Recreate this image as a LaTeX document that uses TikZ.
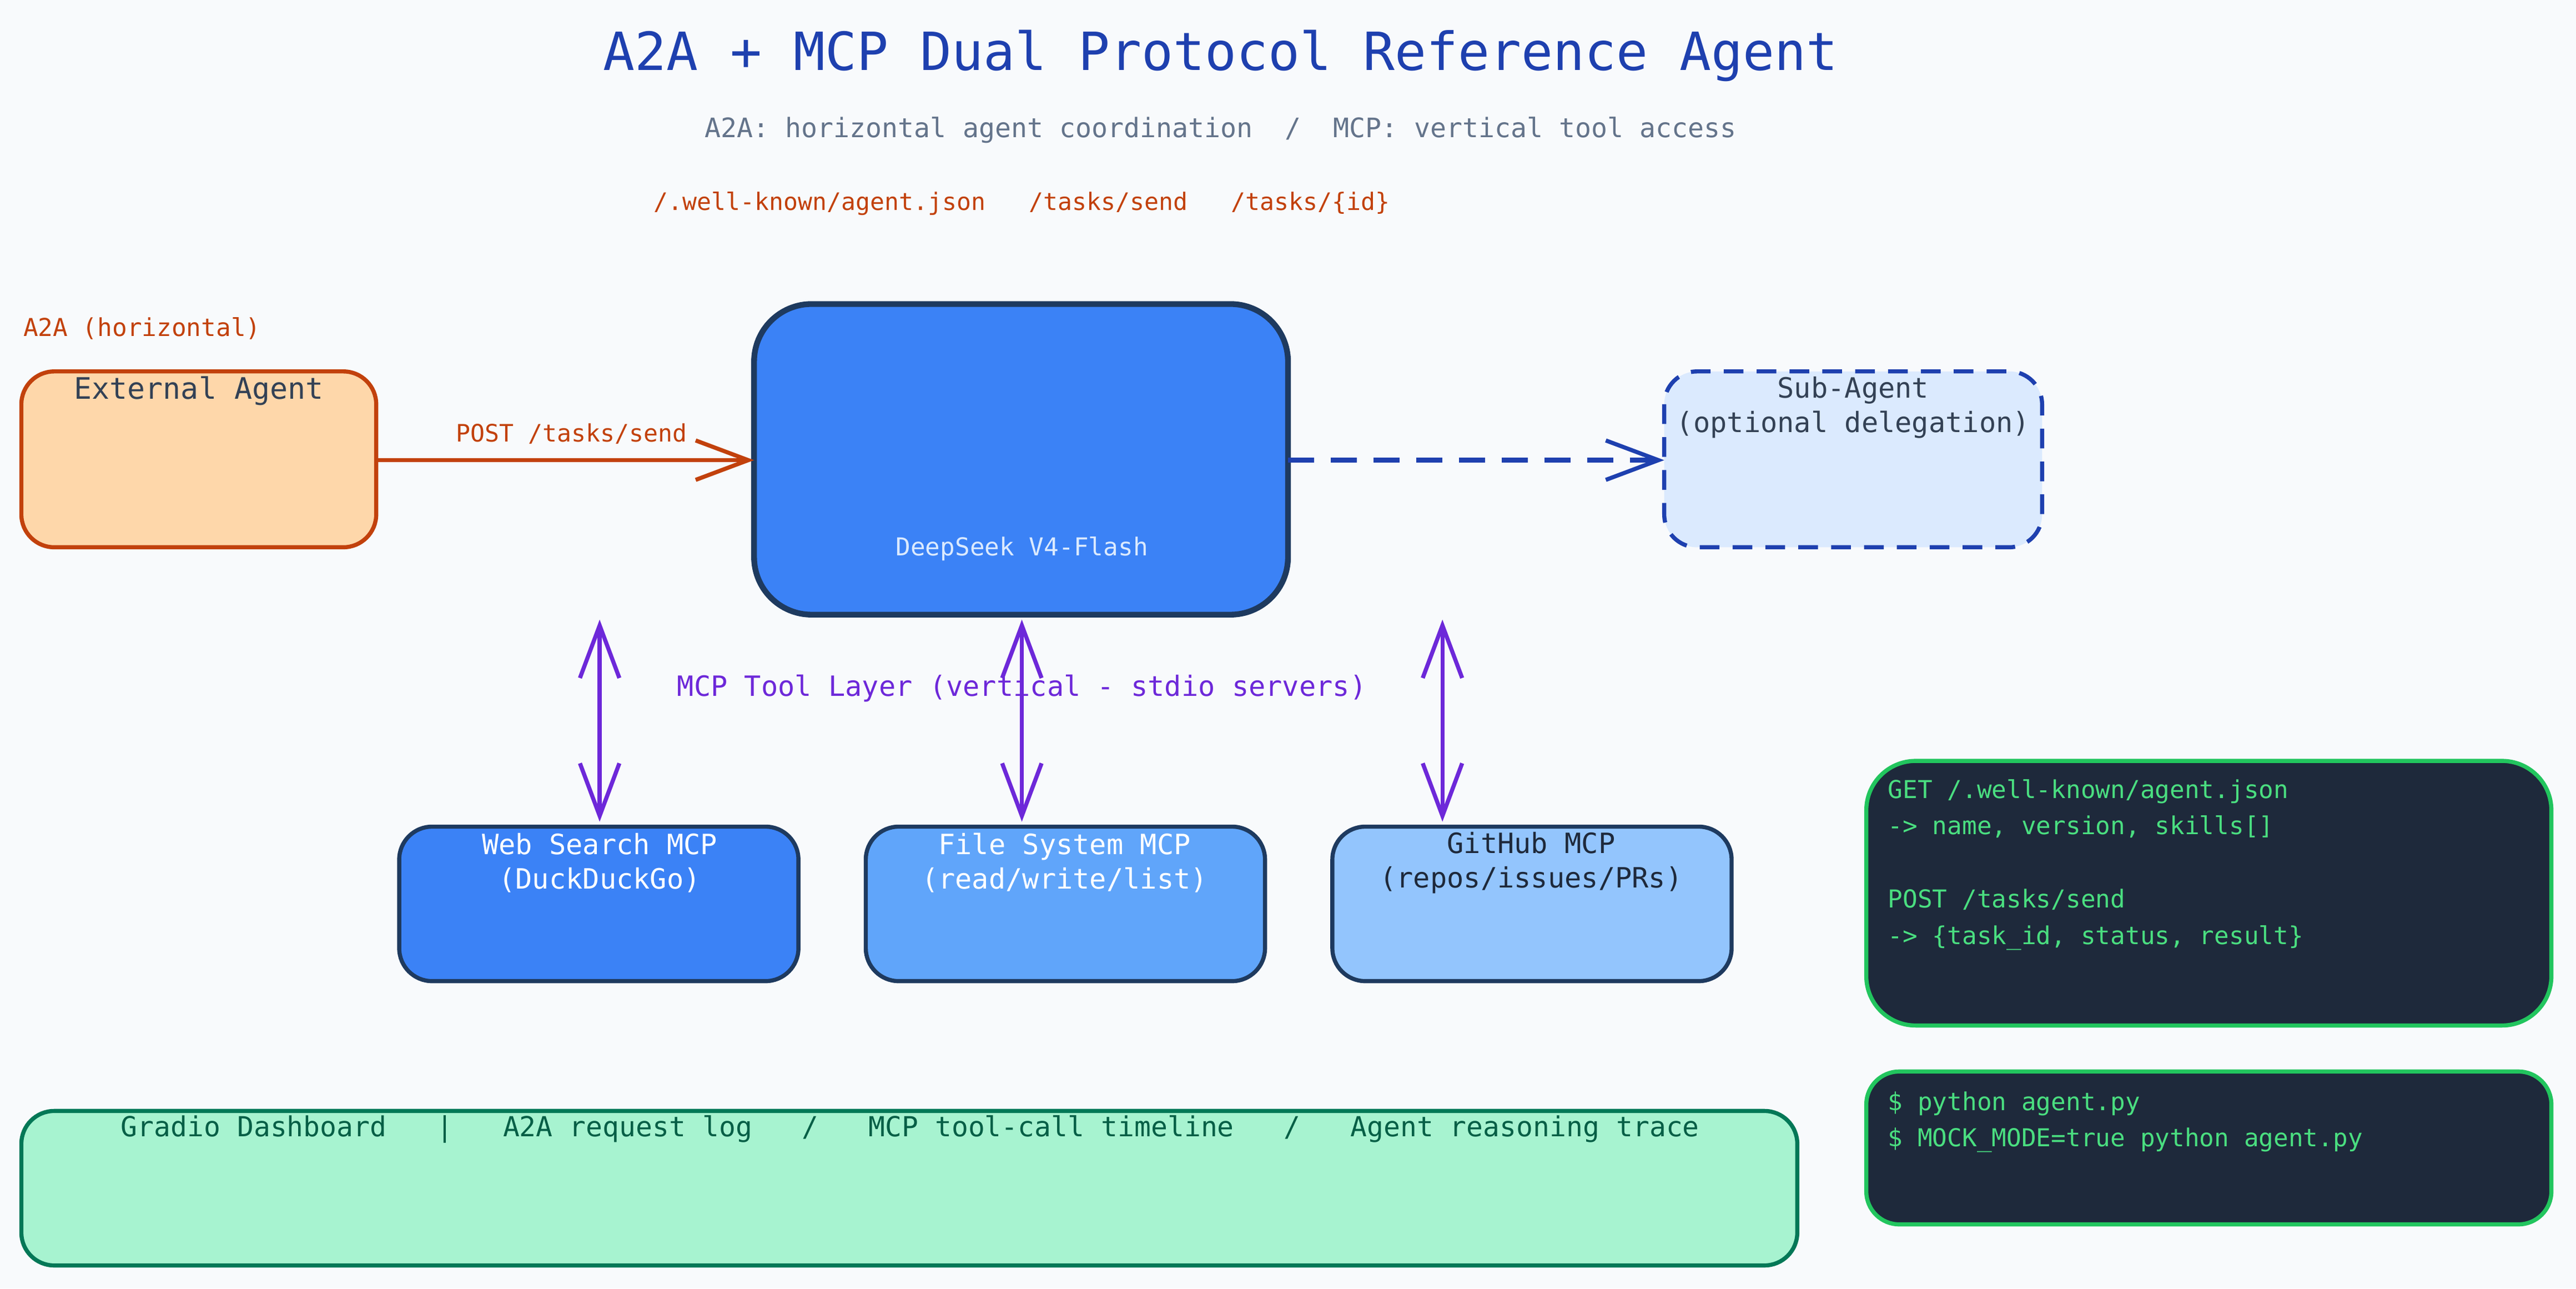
\documentclass[tikz,border=0pt]{standalone}
\usepackage{fontspec}
\setmainfont{DejaVu Sans Mono}
\usetikzlibrary{arrows.meta}
\definecolor{bg}{HTML}{F8FAFC}
\definecolor{tblue}{HTML}{1E40AF}
\definecolor{sgray}{HTML}{64748B}
\definecolor{orng}{HTML}{C2410C}
\definecolor{peach}{HTML}{FED7AA}
\definecolor{slate}{HTML}{334155}
\definecolor{navy}{HTML}{1E3A5F}
\definecolor{b5}{HTML}{3B82F6}
\definecolor{b4}{HTML}{60A5FA}
\definecolor{b3}{HTML}{93C5FD}
\definecolor{b1}{HTML}{DBEAFE}
\definecolor{purp}{HTML}{6D28D9}
\definecolor{dark}{HTML}{1E293B}
\definecolor{grn}{HTML}{22C55E}
\definecolor{lgrn}{HTML}{4ADE80}
\definecolor{mint}{HTML}{A7F3D0}
\definecolor{emer}{HTML}{047857}
\definecolor{demer}{HTML}{065F46}
\begin{document}
\begin{tikzpicture}[x=1pt,y=-1pt,
  box/.style={draw,line width=2.5pt,rounded corners=20pt},
  lbl/.style={font=\fontsize{17}{21}\selectfont,align=center,inner sep=0pt},
  code/.style={font=\fontsize{15}{22.2}\selectfont,align=left,anchor=north west,inner sep=0pt,text=lgrn},
  tip/.style={-{Straight Barb[length=32pt,width=24pt,line width=2.5pt]}},
  dtip/.style={{Straight Barb[length=32pt,width=24pt,line width=2.5pt]}-{Straight Barb[length=32pt,width=24pt,line width=2.5pt]}}]
\fill[bg] (0,0) rectangle (1568,784);
\useasboundingbox (0,0) rectangle (1568,784);
\node[text=tblue,font=\fontsize{32}{36}\selectfont] (title) at (743,34) {A2A + MCP Dual Protocol Reference Agent};
\node[text=sgray,font=\fontsize{16.3}{20}\selectfont] (sub) at (743,79) {A2A: horizontal agent coordination\ \ /\ \ MCP: vertical tool access};
\node[text=orng,font=\fontsize{14.6}{18}\selectfont] (ep) at (622,124) {/.well-known/agent.json\ \ \ /tasks/send\ \ \ /tasks/\{id\}};
\node[text=orng,font=\fontsize{15}{18}\selectfont,anchor=west,inner sep=0pt] (a2a) at (14,200) {A2A (horizontal)};

\draw[box,orng,fill=peach] (13,226) rectangle (229,333);
\node[lbl,text=slate,font=\fontsize{18}{21}\selectfont] (ext) at (121,238) {External Agent};
\coordinate (extR) at (229,280);

\draw[navy,fill=b5,line width=3.5pt,rounded corners=35pt] (459,185) rectangle (784,374);
\node[lbl,text=b1,font=\fontsize{15}{18}\selectfont] (ds) at (622,334) {DeepSeek V4-Flash};
\coordinate (mainL) at (459,280);
\coordinate (mainR) at (784,280);

\draw[tip,orng,line width=2.5pt] (extR) -- (mainL);
\node[text=orng,font=\fontsize{14.6}{18}\selectfont] (post) at (348,264) {POST /tasks/send};

\draw[box,tblue,fill=b1,dash pattern=on 12pt off 8pt] (1013,226) rectangle (1243,333);
\node[lbl,text=slate] (sa) at (1128,248) {Sub-Agent\\(optional delegation)};
\coordinate (subL) at (1013,280);
\draw[tip,tblue,line width=3pt,dash pattern=on 16pt off 10pt] (mainR) -- (subL);

\node[text=purp,font=\fontsize{17}{20}\selectfont] (mcp) at (622,419) {MCP Tool Layer (vertical - stdio servers)};

\draw[box,navy,fill=b5] (243,503) rectangle (486,597);
\node[lbl,text=white] (ws) at (365,525) {Web Search MCP\\(DuckDuckGo)};
\draw[box,navy,fill=b4] (527,503) rectangle (770,597);
\node[lbl,text=white] (fs) at (648,525) {File System MCP\\(read/write/list)};
\draw[box,navy,fill=b3] (811,503) rectangle (1054,597);
\node[lbl,text=dark] (gh) at (932,525) {GitHub MCP\\(repos/issues/PRs)};

\coordinate (t1) at (365,377); \coordinate (d1) at (365,500);
\coordinate (t2) at (622,377); \coordinate (d2) at (622,500);
\coordinate (t3) at (878,377); \coordinate (d3) at (878,500);
\foreach \i in {1,2,3}{\draw[dtip,purp,line width=2.5pt] (t\i) -- (d\i);}

\draw[box,grn,fill=dark,rounded corners=30pt] (1136,463) rectangle (1553,624);
\node[code] (c1) at (1149,474) {GET /.well-known/agent.json\\-> name, version, skills[]\\[22.2pt]POST /tasks/send\\-> \{task\_id, status, result\}};
\draw[box,grn,fill=dark] (1136,652) rectangle (1553,745);
\node[code] (c2) at (1149,664) {\$ python agent.py\\\$ MOCK\_MODE=true python agent.py};

\draw[box,emer,fill=mint] (13,676) rectangle (1094,770);
\node[lbl,text=demer,font=\fontsize{16.8}{20}\selectfont] (gr) at (554,687) {Gradio Dashboard\ \ \ |\ \ \ A2A request log\ \ \ /\ \ \ MCP tool-call timeline\ \ \ /\ \ \ Agent reasoning trace};
\end{tikzpicture}
\end{document}
